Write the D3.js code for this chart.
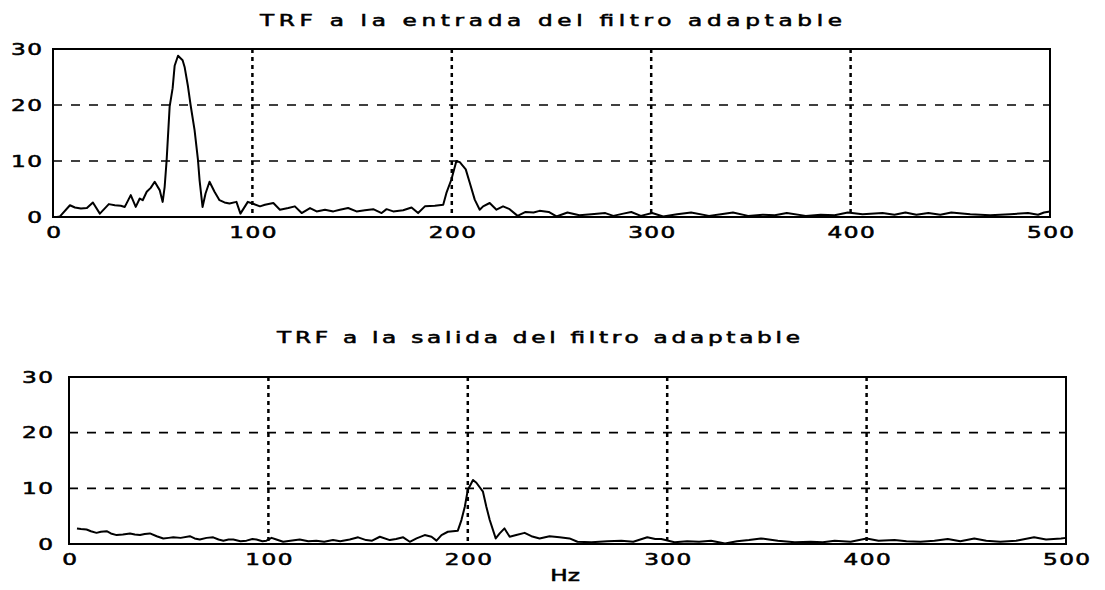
<!DOCTYPE html>
<html>
<head>
<meta charset="utf-8">
<script src="https://cdn.jsdelivr.net/npm/d3@7"></script>
<style>
  body { margin: 0; background: #fff; }
  svg { display: block; }
  text { font-family: "DejaVu Sans", sans-serif; fill: #000; }
</style>
</head>
<body>
<div id="chart"></div>
<script>
// data
var freqIn = [2,3.5,8.5,11,14,17,20,23.5,28,31,34,36,39,41.5,43.5,45,47,49,51,53.5,55,56,57,58.5,60,61,62.7,65,66,67.7,69,71,72.7,73.5,75,76.5,78.5,81,83.5,86,88.5,92,94,97.7,100,103.8,106.3,110.5,113.8,118,121.3,124.7,128.9,132.2,136.4,140.6,143.9,148,152.2,156.4,160.6,164.8,167.3,170.6,175.6,179.8,183.1,186.5,191.5,195.7,197.3,199.8,202.3,204,207,209,211.5,214,215.7,219,222.4,225.7,229,233,237,241,244,248.6,252.5,258,264,270,277,281,286,290,294.8,300.5,306,313,320,329,335,341,348.6,356,362,368,377.5,385,392,398.6,406,416,422,427.5,433,439,445,450.5,460,470,480,489,494,497,500];
var ampIn = [0,0.1,2.1,1.7,1.5,1.6,2.6,0.6,2.3,2.1,2.0,1.8,3.9,1.8,3.3,3.0,4.5,5.2,6.3,4.8,2.7,5.4,10.2,19.7,23,27,28.8,28,26.8,23.3,20,15.5,10.2,6.6,1.8,4.2,6.3,4.5,3.0,2.6,2.4,2.7,0.6,2.7,2.4,1.9,2.2,2.5,1.3,1.6,1.9,0.7,1.6,1.0,1.3,1.0,1.3,1.6,1.0,1.2,1.4,0.7,1.4,1.0,1.2,1.7,0.7,1.9,2.0,2.2,4.3,6.7,10,9.8,8.5,6.1,3.1,1.3,1.9,2.5,1.3,1.9,1.4,0.2,0.9,0.8,1.1,0.9,0.1,0.8,0.3,0.5,0.7,0.2,0.6,0.9,0.2,0.7,0.1,0.5,0.8,0.2,0.5,0.8,0.2,0.4,0.3,0.7,0.2,0.4,0.3,0.8,0.5,0.7,0.4,0.8,0.4,0.7,0.4,0.8,0.5,0.3,0.5,0.7,0.4,0.8,1.0];

var freqOut = [4,6,8.8,11,13.8,16,18.9,21,23.9,27,30.6,33,35.6,38,40.6,44,47.3,50,52.3,56,60.6,63,65.6,69,72.3,75,77.4,80,82.4,86,89,92,94,97,99,101.6,104,107.4,111,115.7,120,124,128,132.4,136,140.8,145,149,152,155.9,160.9,164,167.6,170.9,174.3,178.4,181.8,184.3,186.8,190,195,196.8,198.5,200,202.6,204.3,207.6,209.3,211,214,216,218.4,221,224.3,228.5,231.9,236,241,246,251,255,262,270,277,283,290,294,297,303.7,310,316,322,329,335,341,347,351,355.5,364,372,378,384,392,400,406,414,420,427,434,440.7,447,454,460,467,475,484,490,497.5,500];
var ampOut = [2.8,2.7,2.6,2.3,2.0,2.2,2.3,1.9,1.6,1.7,1.9,1.7,1.6,1.8,1.9,1.4,1.0,1.1,1.2,1.1,1.4,1.0,0.8,1.1,1.2,0.8,0.6,0.8,0.8,0.5,0.6,0.9,0.8,0.5,0.6,1.1,0.8,0.4,0.6,0.8,0.5,0.6,0.4,0.7,0.5,0.8,1.2,0.7,0.6,1.3,0.7,0.9,1.2,0.4,1.0,1.6,1.3,0.6,1.6,2.2,2.4,4.3,6.7,9.7,11.5,11,9.4,6.7,4.3,1.0,1.9,2.8,1.3,1.6,2.0,1.4,1.0,1.4,1.2,1.0,0.4,0.3,0.5,0.6,0.4,1.2,0.9,0.9,0.3,0.5,0.4,0.6,0.1,0.5,0.7,1.0,0.8,0.6,0.3,0.4,0.3,0.6,0.4,1.0,0.6,0.7,0.5,0.4,0.6,0.9,0.5,1.0,0.6,0.4,0.6,1.2,0.8,1.0,1.1];

var xTicks = [0, 100, 200, 300, 400, 500];
var yTicks = [0, 10, 20, 30];
var titleIn = 'TRF  a la entrada del filtro adaptable';
var titleOut = 'TRF  a la salida del filtro adaptable';
var xLabel = 'Hz';

// the scanned lettering is about 1.45x wider than DejaVu
var stretch = 1.45;

var svg = d3.select('#chart')
  .append('svg')
  .attr('width', 1105)
  .attr('height', 590);

function inked(sel, size) {
  sel.style('font-size', size + 'px')
    .style('stroke', '#000')
    .style('stroke-width', '0.55px');
}

function drawPanel(opts) {
  var x = d3.scaleLinear().domain([0, 500]).range([opts.left, opts.left + opts.width]);
  var y = d3.scaleLinear().domain([0, 30]).range([opts.top + opts.height, opts.top]);
  var g = svg.append('g');

  // title, stretched to the width it has in the scan
  g.append('g')
    .attr('transform', 'translate(' + opts.titleX + ',' + opts.titleY + ') scale(' + stretch + ',1)')
    .append('text')
    .attr('textLength', opts.titleLen / stretch)
    .attr('lengthAdjust', 'spacing')
    .call(inked, 16)
    .text(opts.title);

  // grid
  g.selectAll('.vgrid')
    .data(xTicks.filter(function(d) { return d > 0 && d < 500; }))
    .enter()
    .append('line')
    .attr('x1', function(d) { return x(d); })
    .attr('x2', function(d) { return x(d); })
    .attr('y1', opts.top)
    .attr('y2', opts.top + opts.height)
    .attr('stroke', '#000')
    .attr('stroke-width', 2.5)
    .attr('stroke-dasharray', '4,4');

  g.selectAll('.hgrid')
    .data(yTicks.filter(function(d) { return d > 0 && d < 30; }))
    .enter()
    .append('line')
    .attr('x1', opts.left)
    .attr('x2', opts.left + opts.width)
    .attr('y1', function(d) { return y(d); })
    .attr('y2', function(d) { return y(d); })
    .attr('stroke', '#000')
    .attr('stroke-width', 1.6)
    .attr('stroke-dasharray', '9,9');

  // spectrum
  var pts = opts.freq.map(function(f, i) { return [f, opts.amp[i]]; });
  var line = d3.line()
    .x(function(d) { return x(d[0]); })
    .y(function(d) { return y(d[1]); });
  g.append('path')
    .datum(pts)
    .attr('d', line)
    .attr('fill', 'none')
    .attr('stroke', '#000')
    .attr('stroke-width', 2)
    .attr('stroke-linejoin', 'round');

  // frame
  g.append('rect')
    .attr('x', opts.left)
    .attr('y', opts.top)
    .attr('width', opts.width)
    .attr('height', opts.height)
    .attr('fill', 'none')
    .attr('stroke', '#000')
    .attr('stroke-width', 2);

  // axes
  var xAxis = g.append('g')
    .attr('transform', 'translate(0,' + (opts.top + opts.height) + ')')
    .call(d3.axisBottom(x).tickValues(xTicks).tickSize(0).tickPadding(10));
  var yAxis = g.append('g')
    .attr('transform', 'translate(' + opts.left + ',0)')
    .call(d3.axisLeft(y).tickValues(yTicks).tickSize(0).tickPadding(opts.yPad / stretch));
  [xAxis, yAxis].forEach(function(a) {
    a.select('.domain').remove();
    a.attr('font-family', null).attr('font-size', null);
    a.selectAll('text')
      .call(inked, 16)
      .style('letter-spacing', '1px')
      .attr('transform', 'scale(' + stretch + ',1)');
  });
  xAxis.selectAll('text').attr('dx', '0.5px');
  yAxis.selectAll('text').attr('dx', '1px');
  return x;
}

drawPanel({
  left: 53, top: 49, width: 997, height: 168, yPad: 11,
  freq: freqIn, amp: ampIn,
  title: titleIn, titleX: 260, titleY: 26, titleLen: 582
});

drawPanel({
  left: 69, top: 377, width: 997, height: 167, yPad: 16,
  freq: freqOut, amp: ampOut,
  title: titleOut, titleX: 277, titleY: 343, titleLen: 523
});

svg.append('g')
  .attr('transform', 'translate(565,581) scale(' + stretch + ',1)')
  .append('text')
  .attr('text-anchor', 'middle')
  .call(inked, 16)
  .text(xLabel);
</script>
</body>
</html>
